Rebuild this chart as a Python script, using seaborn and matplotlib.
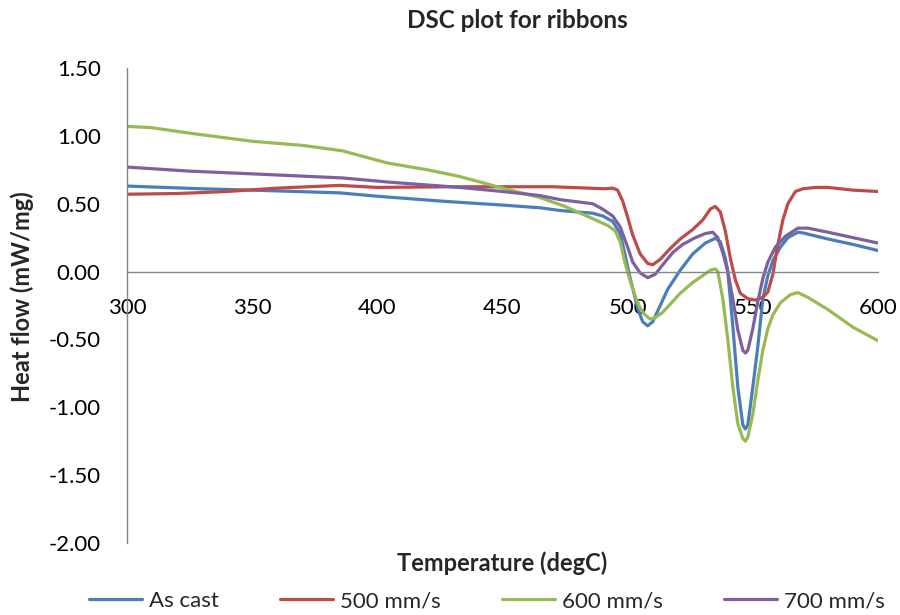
import numpy as np
import pandas as pd
import matplotlib
matplotlib.use("Agg")
import matplotlib.pyplot as plt
import seaborn as sns
from matplotlib.lines import Line2D

# ---- data ----
series_names = ["As cast", "500 mm/s", "600 mm/s", "700 mm/s"]

as_cast_T = [300, 330, 350, 385, 400, 425, 433, 450, 465, 473, 486, 490, 494, 497, 499, 501, 504, 506, 508, 510,
             513, 516, 521, 526, 531, 535, 537, 539, 540, 542, 544, 546, 547, 548, 550, 552, 554, 556, 558, 561,
             564, 568, 570, 580, 590, 600]
as_cast_H = [0.63, 0.61, 0.60, 0.58, 0.555, 0.52, 0.51, 0.49, 0.47, 0.45, 0.43, 0.41, 0.37, 0.28, 0.12, -0.05, -0.27, -0.37, -0.40, -0.37,
             -0.25, -0.13, 0.01, 0.13, 0.21, 0.245, 0.22, 0.10, 0.0, -0.40, -0.85, -1.13, -1.16, -1.13, -0.85, -0.55, -0.20, -0.03, 0.08, 0.18,
             0.25, 0.29, 0.285, 0.24, 0.20, 0.155]

r500_T = [300, 320, 340, 360, 385, 400, 430, 470, 491, 494, 496, 498, 500, 502, 505, 508, 510, 513, 517, 521,
          526, 530, 533, 535, 537, 539, 541, 543, 545, 548, 551, 554, 556, 558, 560, 562, 564, 567, 570, 575,
          580, 590, 600]
r500_H = [0.57, 0.575, 0.59, 0.615, 0.635, 0.62, 0.625, 0.625, 0.61, 0.615, 0.60, 0.52, 0.40, 0.27, 0.13, 0.06, 0.05, 0.09, 0.17, 0.24,
          0.31, 0.38, 0.46, 0.48, 0.44, 0.30, 0.10, -0.06, -0.16, -0.20, -0.21, -0.19, -0.15, -0.02, 0.20, 0.38, 0.50, 0.59, 0.61, 0.62,
          0.62, 0.60, 0.59]

r600_T = [300, 310, 325, 350, 370, 386, 404, 420, 433, 449, 465, 475, 486, 492, 495, 497, 499, 501, 503, 505,
          507, 509, 511, 514, 517, 521, 526, 530, 533, 535, 536, 538, 540, 542, 544, 546, 547, 548, 550, 552,
          554, 556, 558, 561, 565, 568, 572, 580, 590, 600]
r600_H = [1.07, 1.06, 1.02, 0.96, 0.93, 0.89, 0.80, 0.75, 0.70, 0.62, 0.545, 0.48, 0.39, 0.34, 0.30, 0.22, 0.06, -0.07, -0.18, -0.27,
          -0.32, -0.35, -0.34, -0.30, -0.24, -0.16, -0.08, -0.03, 0.01, 0.02, 0.0, -0.20, -0.50, -0.85, -1.12, -1.23, -1.25, -1.22, -1.05, -0.80,
          -0.58, -0.42, -0.32, -0.23, -0.17, -0.155, -0.19, -0.28, -0.41, -0.51]

r700_T = [300, 325, 350, 386, 404, 433, 450, 465, 473, 486, 490, 494, 497, 500, 502, 505, 508, 511, 514, 518,
          522, 527, 531, 534, 536, 538, 540, 542, 544, 546, 547, 548, 550, 552, 554, 556, 559, 563, 568, 572,
          580, 590, 600]
r700_H = [0.77, 0.74, 0.72, 0.69, 0.66, 0.62, 0.59, 0.56, 0.53, 0.50, 0.46, 0.41, 0.33, 0.18, 0.07, -0.01, -0.045, -0.02, 0.05, 0.14,
          0.20, 0.25, 0.28, 0.29, 0.25, 0.14, 0.00, -0.20, -0.43, -0.58, -0.60, -0.58, -0.42, -0.22, -0.05, 0.07, 0.18, 0.26, 0.32, 0.32,
          0.29, 0.25, 0.21]

x_ticks = [300, 350, 400, 450, 500, 550, 600]
y_ticks = [-2.0, -1.5, -1.0, -0.5, 0.0, 0.5, 1.0, 1.5]

colors = ["#4A7EBB", "#BE4B48", "#98B954", "#7D60A0"]

frames = []
for name, T, H in zip(series_names,
                      [as_cast_T, r500_T, r600_T, r700_T],
                      [as_cast_H, r500_H, r600_H, r700_H]):
    frames.append(pd.DataFrame({"Temperature": T, "Heat flow": H, "Series": name}))
df = pd.concat(frames, ignore_index=True)

sns.set_theme(style="white")
plt.rcParams["font.family"] = ["Lato", "DejaVu Sans"]

fig = plt.figure(figsize=(9, 6.15), dpi=100)
ax = fig.add_axes([127/900, 1-543/615, (878-127)/900, (543-68)/615])

sns.lineplot(data=df, x="Temperature", y="Heat flow", hue="Series",
             hue_order=series_names, palette=colors, sort=False,
             estimator=None, linewidth=2.3, ax=ax, legend=False)

ax.set_xlim(300, 600)
ax.set_ylim(-2.0, 1.5)
ax.set_xticks(x_ticks)
ax.set_xticklabels([str(t) for t in x_ticks])
ax.set_yticks(y_ticks)
ax.set_yticklabels([f"{v:.2f}" for v in y_ticks])

for s in ["top", "right"]:
    ax.spines[s].set_visible(False)
ax.spines["bottom"].set_position(("data", 0))
ax.spines["bottom"].set_color("#868686")
ax.spines["left"].set_color("#868686")
ax.spines["bottom"].set_linewidth(1.0)
ax.spines["left"].set_linewidth(1.0)

ax.tick_params(axis="x", length=0, pad=19, labelsize=16, colors="black")
ax.tick_params(axis="y", length=0, pad=19, labelsize=16, colors="black")
ax.grid(False)

ax.set_xlabel("Temperature (degC)", fontsize=17, fontweight="bold")
ax.set_ylabel("Heat flow (mW/mg)", fontsize=17, fontweight="bold")
ax.xaxis.set_label_coords((502-127)/751, -(551-543)/475)
ax.yaxis.set_label_coords(-(127-34)/751, (543-297)/475)

fig.text(517/900, 1-21/615, "DSC plot for ribbons", ha="center", va="center",
         fontsize=17.5, fontweight="bold")

handles = [Line2D([0], [0], color=c, lw=2.3) for c in colors]
fig.legend(handles, series_names, loc="center", bbox_to_anchor=(487/900, 1-601/615),
           ncol=4, frameon=False, fontsize=16, handlelength=2.4, handletextpad=0.3,
           columnspacing=2.75)

fig.savefig("out.png", dpi=100)
